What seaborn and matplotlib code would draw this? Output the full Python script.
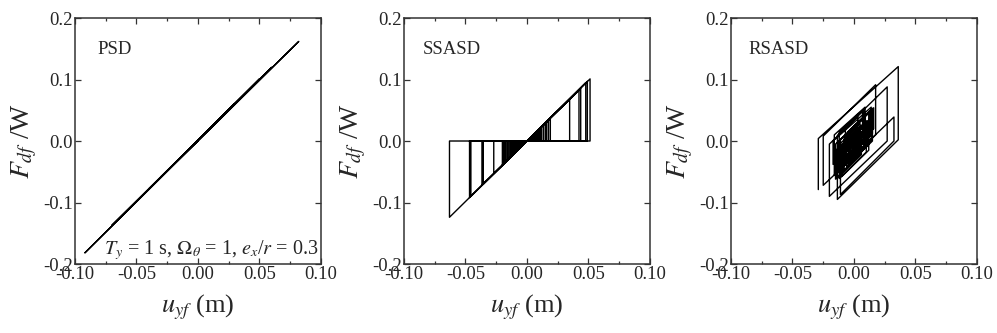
import numpy as np
import pandas as pd
import matplotlib
matplotlib.use("Agg")
import matplotlib.pyplot as plt
import seaborn as sns
from matplotlib.ticker import MultipleLocator, FormatStrFormatter

## Data
# PSD - nearly linear back-and-forth response
psd_u = [0.000, 0.030, -0.040, 0.060, -0.070, 0.082, -0.092, 0.050, -0.030, 0.000]
psd_f = [0.001, 0.061, -0.078, 0.120, -0.137, 0.162, -0.182, 0.101, -0.058, 0.000]

# SSASD - peaks reached along the loading branch (each drops back to zero)
ssasd_peak_u = [-0.063, -0.0467, -0.0456, -0.0366, -0.0355, -0.027, -0.020, -0.019,
                -0.018, -0.0172, -0.016, -0.0152, -0.014, -0.013, -0.012, -0.011,
                -0.010, -0.009, -0.008, -0.007, -0.006, -0.005, -0.004, -0.003,
                0.003, 0.004, 0.005, 0.006, 0.007, 0.008, 0.009, 0.010, 0.011,
                0.012, 0.0135, 0.015, 0.016, 0.0175, 0.019, 0.0347, 0.0423,
                0.0437, 0.0478, 0.0491, 0.0513]
ssasd_peak_f = [-0.124, -0.092, -0.090, -0.072, -0.070, -0.053, -0.039, -0.037,
                -0.035, -0.034, -0.032, -0.030, -0.028, -0.026, -0.024, -0.022,
                -0.020, -0.018, -0.016, -0.014, -0.012, -0.010, -0.008, -0.006,
                0.006, 0.008, 0.010, 0.012, 0.014, 0.016, 0.018, 0.020, 0.022,
                0.024, 0.027, 0.030, 0.032, 0.034, 0.037, 0.068, 0.083,
                0.085, 0.095, 0.097, 0.101]

# RSASD - hysteresis path vertices (outer loops first, then the dense core)
rsasd_u = [-0.029, -0.029, 0.036, 0.036, -0.0135, -0.0135, 0.027, 0.027, -0.020,
           -0.020, 0.008, 0.008, -0.025, -0.025, 0.0176, 0.0176, -0.011, 0.0325,
           0.0325, -0.011, -0.011, 0.012, 0.012, -0.010, -0.010, 0.010, 0.010,
           -0.012, -0.012, 0.006, 0.006, -0.008, -0.008, 0.015, 0.015, -0.006,
           -0.006, 0.004, 0.004, -0.015, -0.015, 0.001, 0.001, -0.009, -0.009,
           0.011, 0.011, -0.004, -0.004, 0.005, 0.005, -0.013, -0.013, 0.013,
           0.013, -0.007, -0.007, 0.003, 0.003, -0.005, -0.005, 0.008, 0.008,
           -0.002, -0.002, 0.000, -0.016, -0.016, 0.009, 0.009, -0.017, -0.017,
           0.014, 0.014, -0.012, -0.012, 0.007, 0.007, -0.015, -0.015, 0.016,
           0.016, -0.003, -0.003, 0.012, 0.012, -0.010, -0.010, 0.014, 0.014,
           -0.004, -0.004, 0.006, 0.006, -0.014, -0.014, 0.010, 0.010, -0.016,
           -0.016, 0.004, 0.004, -0.011, -0.011, 0.015, 0.015, -0.008, -0.008,
           0.009, 0.009, -0.013, -0.013, 0.002, 0.002, -0.006, -0.006, 0.013,
           0.013, -0.001]
rsasd_f = [-0.079, 0.004, 0.121, 0.002, -0.095, 0.009, 0.088, 0.000, -0.090,
           -0.005, 0.050, -0.010, -0.072, 0.008, 0.0915, 0.010, -0.045, 0.039,
           0.000, -0.087, -0.020, 0.025, -0.015, -0.058, -0.012, 0.027, -0.018,
           -0.061, -0.020, 0.015, -0.020, -0.047, -0.005, 0.040, 0.000, -0.041,
           -0.010, 0.010, -0.025, -0.062, -0.025, 0.006, -0.030, -0.050, -0.010,
           0.029, -0.008, -0.037, 0.010, 0.028, -0.010, -0.045, -0.002, 0.049,
           0.010, -0.030, 0.020, 0.040, 0.005, -0.011, 0.015, 0.040, 0.008,
           -0.012, 0.005, 0.009, -0.022, 0.010, 0.055, 0.012, -0.038, 0.000,
           0.055, 0.015, -0.035, 0.015, 0.050, 0.010, -0.032, -0.005, 0.054,
           0.020, -0.017, 0.018, 0.047, 0.005, -0.038, -0.010, 0.037, 0.000,
           -0.035, -0.005, 0.014, -0.022, -0.061, -0.015, 0.033, -0.005, -0.056,
           -0.018, 0.022, -0.012, -0.041, 0.002, 0.053, 0.012, -0.034, 0.006,
           0.039, -0.006, -0.050, -0.008, 0.022, -0.010, -0.026, 0.010, 0.047,
           0.012, -0.015]

panel_names = ["PSD", "SSASD", "RSASD"]
x_ticks = [-0.10, -0.05, 0.00, 0.05, 0.10]
y_ticks = [-0.2, -0.1, 0.0, 0.1, 0.2]

# Build the SSASD path: origin -> peak -> drop to zero -> back to origin
ssasd_u, ssasd_f = [0.0], [0.0]
for pu, pf in zip(ssasd_peak_u, ssasd_peak_f):
    ssasd_u += [pu, pu, 0.0]
    ssasd_f += [pf, 0.0, 0.0]

paths = [(psd_u, psd_f), (ssasd_u, ssasd_f), (rsasd_u, rsasd_f)]

sns.set_style("ticks")
plt.rcParams["font.family"] = ["Liberation Serif", "DejaVu Serif"]
plt.rcParams["mathtext.fontset"] = "stix"
plt.rcParams["axes.unicode_minus"] = False

fig = plt.figure(figsize=(9.97, 3.33), dpi=100)
lefts = [0.0752, 0.4052, 0.7332]
name_x = [0.09, 0.076, 0.07]

for i, (u, f) in enumerate(paths):
    ax = fig.add_axes([lefts[i], 0.2072, 0.2467, 0.7387])
    df = pd.DataFrame({"u": u, "f": f})
    sns.lineplot(data=df, x="u", y="f", sort=False, estimator=None,
                 color="black", linewidth=1.0, ax=ax)

    ax.set_xlim(-0.10, 0.10)
    ax.set_ylim(-0.2, 0.2)
    ax.set_xticks(x_ticks)
    ax.set_yticks(y_ticks)
    ax.xaxis.set_minor_locator(MultipleLocator(0.025))
    ax.xaxis.set_major_formatter(FormatStrFormatter("%.2f"))
    ax.yaxis.set_major_formatter(FormatStrFormatter("%.1f"))
    ax.tick_params(which="both", direction="in", top=True, right=True,
                   labelsize=13.5, pad=1.5, width=0.9, color="#333333")
    ax.tick_params(which="major", length=4)
    ax.tick_params(which="minor", length=2.5)
    for s in ax.spines.values():
        s.set_linewidth(1.1)
        s.set_color("#333333")

    ax.set_xlabel(r"$u_{yf}$ (m)", fontsize=19, labelpad=7)
    ax.set_ylabel(r"$F_{df}$ /W", fontsize=20, labelpad=3)
    ax.text(name_x[i], 0.87, panel_names[i], transform=ax.transAxes,
            fontsize=13.5, va="center", ha="left")

    if i == 0:
        ax.text(0.99, 0.04, r"$T_y$ = 1 s, $\Omega_\theta$ = 1, $e_x$/$r$ = 0.3",
                transform=ax.transAxes, fontsize=14.5, ha="right", va="baseline")

fig.savefig("out.png", dpi=100)
